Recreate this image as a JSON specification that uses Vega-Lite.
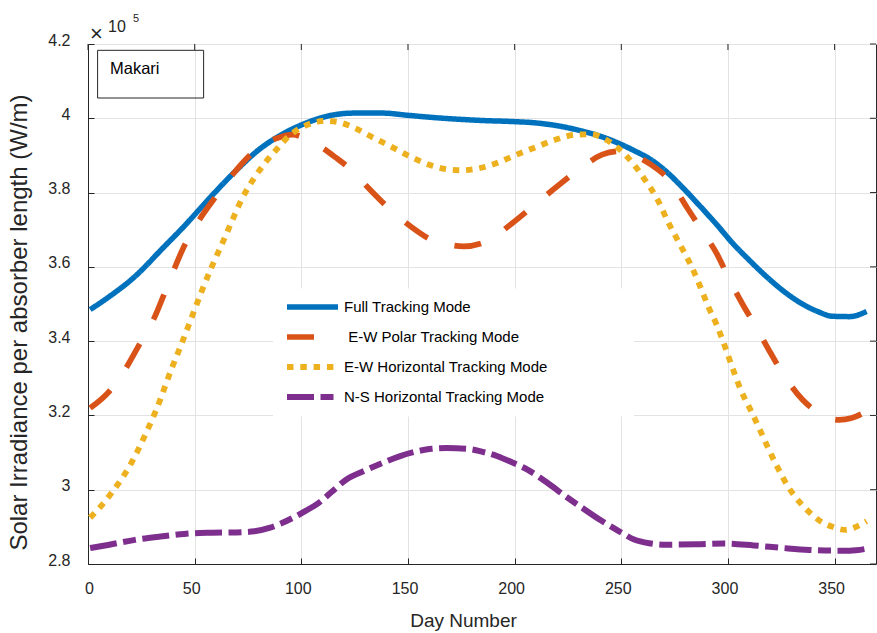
{
  "$schema": "https://vega.github.io/schema/vega-lite/v6.json",
  "width": 788,
  "height": 520,
  "autosize": {"type": "none"},
  "padding": {"left": 88, "top": 44, "right": 1, "bottom": 69},
  "background": "white",
  "config": {
    "font": "Liberation Sans",
    "view": {"stroke": "#262626", "strokeWidth": 1},
    "axis": {
      "domainColor": "#262626",
      "tickColor": "#262626",
      "labelColor": "#262626",
      "titleColor": "#262626",
      "gridColor": "#e3e3e3",
      "gridWidth": 1,
      "labelFont": "Liberation Sans",
      "titleFont": "Liberation Sans",
      "labelFontSize": 16,
      "titleFontSize": 19,
      "titleFontWeight": "normal",
      "tickSize": -6
    },
    "legend": {
      "orient": "none",
      "legendX": 185,
      "legendY": 244.5,
      "fillColor": "white",
      "padding": 11,
      "symbolType": "stroke",
      "symbolSize": 2601,
      "symbolStrokeWidth": 6,
      "labelFont": "Liberation Sans",
      "labelFontSize": 15,
      "labelColor": "#000000",
      "labelLimit": 600,
      "labelOffset": 3,
      "clipHeight": 15,
      "rowPadding": 14
    }
  },
  "datasets": {
    "ticks_x": [{"tick": 0}, {"tick": 50}, {"tick": 100}, {"tick": 150}, {"tick": 200}, {"tick": 250}, {"tick": 300}, {"tick": 350}],
    "ticks_y": [{"tick": 280000}, {"tick": 300000}, {"tick": 320000}, {"tick": 340000}, {"tick": 360000}, {"tick": 380000}, {"tick": 400000}, {"tick": 420000}],
    "irradiance": [
      {"day": 1, "irradiance": 348500, "mode": "Full Tracking Mode"},
      {"day": 10, "irradiance": 352000, "mode": "Full Tracking Mode"},
      {"day": 22, "irradiance": 357400, "mode": "Full Tracking Mode"},
      {"day": 35, "irradiance": 365000, "mode": "Full Tracking Mode"},
      {"day": 45, "irradiance": 370900, "mode": "Full Tracking Mode"},
      {"day": 57, "irradiance": 378500, "mode": "Full Tracking Mode"},
      {"day": 69, "irradiance": 385700, "mode": "Full Tracking Mode"},
      {"day": 80, "irradiance": 391500, "mode": "Full Tracking Mode"},
      {"day": 92, "irradiance": 396000, "mode": "Full Tracking Mode"},
      {"day": 100, "irradiance": 398200, "mode": "Full Tracking Mode"},
      {"day": 108, "irradiance": 399900, "mode": "Full Tracking Mode"},
      {"day": 116, "irradiance": 401000, "mode": "Full Tracking Mode"},
      {"day": 125, "irradiance": 401400, "mode": "Full Tracking Mode"},
      {"day": 138, "irradiance": 401400, "mode": "Full Tracking Mode"},
      {"day": 150, "irradiance": 400800, "mode": "Full Tracking Mode"},
      {"day": 162, "irradiance": 400200, "mode": "Full Tracking Mode"},
      {"day": 175, "irradiance": 399700, "mode": "Full Tracking Mode"},
      {"day": 185, "irradiance": 399400, "mode": "Full Tracking Mode"},
      {"day": 200, "irradiance": 399100, "mode": "Full Tracking Mode"},
      {"day": 209, "irradiance": 398800, "mode": "Full Tracking Mode"},
      {"day": 220, "irradiance": 398000, "mode": "Full Tracking Mode"},
      {"day": 232, "irradiance": 396500, "mode": "Full Tracking Mode"},
      {"day": 240, "irradiance": 395200, "mode": "Full Tracking Mode"},
      {"day": 249, "irradiance": 393200, "mode": "Full Tracking Mode"},
      {"day": 256, "irradiance": 391300, "mode": "Full Tracking Mode"},
      {"day": 264, "irradiance": 388800, "mode": "Full Tracking Mode"},
      {"day": 271, "irradiance": 385700, "mode": "Full Tracking Mode"},
      {"day": 279, "irradiance": 381200, "mode": "Full Tracking Mode"},
      {"day": 287, "irradiance": 376300, "mode": "Full Tracking Mode"},
      {"day": 295, "irradiance": 371200, "mode": "Full Tracking Mode"},
      {"day": 302, "irradiance": 366500, "mode": "Full Tracking Mode"},
      {"day": 310, "irradiance": 361800, "mode": "Full Tracking Mode"},
      {"day": 318, "irradiance": 357400, "mode": "Full Tracking Mode"},
      {"day": 326, "irradiance": 353500, "mode": "Full Tracking Mode"},
      {"day": 334, "irradiance": 350300, "mode": "Full Tracking Mode"},
      {"day": 342, "irradiance": 348000, "mode": "Full Tracking Mode"},
      {"day": 349, "irradiance": 346700, "mode": "Full Tracking Mode"},
      {"day": 357, "irradiance": 346600, "mode": "Full Tracking Mode"},
      {"day": 365, "irradiance": 348000, "mode": "Full Tracking Mode"},

      {"day": 1, "irradiance": 322000, "mode": "E-W Polar Tracking Mode"},
      {"day": 10, "irradiance": 326500, "mode": "E-W Polar Tracking Mode"},
      {"day": 17, "irradiance": 332000, "mode": "E-W Polar Tracking Mode"},
      {"day": 24, "irradiance": 339000, "mode": "E-W Polar Tracking Mode"},
      {"day": 31, "irradiance": 346200, "mode": "E-W Polar Tracking Mode"},
      {"day": 38, "irradiance": 356000, "mode": "E-W Polar Tracking Mode"},
      {"day": 45, "irradiance": 365500, "mode": "E-W Polar Tracking Mode"},
      {"day": 52, "irradiance": 372500, "mode": "E-W Polar Tracking Mode"},
      {"day": 60, "irradiance": 379000, "mode": "E-W Polar Tracking Mode"},
      {"day": 68, "irradiance": 385000, "mode": "E-W Polar Tracking Mode"},
      {"day": 77, "irradiance": 390600, "mode": "E-W Polar Tracking Mode"},
      {"day": 88, "irradiance": 394500, "mode": "E-W Polar Tracking Mode"},
      {"day": 96, "irradiance": 395600, "mode": "E-W Polar Tracking Mode"},
      {"day": 101, "irradiance": 394800, "mode": "E-W Polar Tracking Mode"},
      {"day": 110, "irradiance": 392000, "mode": "E-W Polar Tracking Mode"},
      {"day": 116, "irradiance": 389500, "mode": "E-W Polar Tracking Mode"},
      {"day": 122, "irradiance": 386800, "mode": "E-W Polar Tracking Mode"},
      {"day": 131, "irradiance": 381500, "mode": "E-W Polar Tracking Mode"},
      {"day": 141, "irradiance": 375800, "mode": "E-W Polar Tracking Mode"},
      {"day": 151, "irradiance": 371000, "mode": "E-W Polar Tracking Mode"},
      {"day": 161, "irradiance": 367300, "mode": "E-W Polar Tracking Mode"},
      {"day": 169, "irradiance": 366000, "mode": "E-W Polar Tracking Mode"},
      {"day": 176, "irradiance": 365500, "mode": "E-W Polar Tracking Mode"},
      {"day": 187, "irradiance": 366900, "mode": "E-W Polar Tracking Mode"},
      {"day": 199, "irradiance": 371800, "mode": "E-W Polar Tracking Mode"},
      {"day": 210, "irradiance": 377000, "mode": "E-W Polar Tracking Mode"},
      {"day": 220, "irradiance": 381700, "mode": "E-W Polar Tracking Mode"},
      {"day": 232, "irradiance": 387000, "mode": "E-W Polar Tracking Mode"},
      {"day": 241, "irradiance": 390200, "mode": "E-W Polar Tracking Mode"},
      {"day": 249, "irradiance": 391100, "mode": "E-W Polar Tracking Mode"},
      {"day": 256, "irradiance": 390000, "mode": "E-W Polar Tracking Mode"},
      {"day": 264, "irradiance": 387500, "mode": "E-W Polar Tracking Mode"},
      {"day": 273, "irradiance": 383000, "mode": "E-W Polar Tracking Mode"},
      {"day": 281, "irradiance": 375800, "mode": "E-W Polar Tracking Mode"},
      {"day": 287, "irradiance": 370500, "mode": "E-W Polar Tracking Mode"},
      {"day": 295, "irradiance": 363300, "mode": "E-W Polar Tracking Mode"},
      {"day": 300, "irradiance": 357400, "mode": "E-W Polar Tracking Mode"},
      {"day": 307, "irradiance": 349800, "mode": "E-W Polar Tracking Mode"},
      {"day": 313, "irradiance": 344000, "mode": "E-W Polar Tracking Mode"},
      {"day": 320, "irradiance": 336800, "mode": "E-W Polar Tracking Mode"},
      {"day": 326, "irradiance": 331000, "mode": "E-W Polar Tracking Mode"},
      {"day": 335, "irradiance": 324200, "mode": "E-W Polar Tracking Mode"},
      {"day": 344, "irradiance": 320200, "mode": "E-W Polar Tracking Mode"},
      {"day": 352, "irradiance": 318800, "mode": "E-W Polar Tracking Mode"},
      {"day": 358, "irradiance": 319300, "mode": "E-W Polar Tracking Mode"},
      {"day": 365, "irradiance": 321100, "mode": "E-W Polar Tracking Mode"},

      {"day": 1, "irradiance": 292500, "mode": "E-W Horizontal Tracking Mode"},
      {"day": 6, "irradiance": 295500, "mode": "E-W Horizontal Tracking Mode"},
      {"day": 11, "irradiance": 299100, "mode": "E-W Horizontal Tracking Mode"},
      {"day": 17, "irradiance": 304000, "mode": "E-W Horizontal Tracking Mode"},
      {"day": 22, "irradiance": 309000, "mode": "E-W Horizontal Tracking Mode"},
      {"day": 27, "irradiance": 315000, "mode": "E-W Horizontal Tracking Mode"},
      {"day": 32, "irradiance": 321500, "mode": "E-W Horizontal Tracking Mode"},
      {"day": 39, "irradiance": 332300, "mode": "E-W Horizontal Tracking Mode"},
      {"day": 44, "irradiance": 339500, "mode": "E-W Horizontal Tracking Mode"},
      {"day": 49, "irradiance": 347000, "mode": "E-W Horizontal Tracking Mode"},
      {"day": 53, "irradiance": 353000, "mode": "E-W Horizontal Tracking Mode"},
      {"day": 58, "irradiance": 360000, "mode": "E-W Horizontal Tracking Mode"},
      {"day": 63, "irradiance": 366400, "mode": "E-W Horizontal Tracking Mode"},
      {"day": 68, "irradiance": 373000, "mode": "E-W Horizontal Tracking Mode"},
      {"day": 72, "irradiance": 378100, "mode": "E-W Horizontal Tracking Mode"},
      {"day": 78, "irradiance": 384000, "mode": "E-W Horizontal Tracking Mode"},
      {"day": 83, "irradiance": 388000, "mode": "E-W Horizontal Tracking Mode"},
      {"day": 89, "irradiance": 392000, "mode": "E-W Horizontal Tracking Mode"},
      {"day": 94, "irradiance": 395100, "mode": "E-W Horizontal Tracking Mode"},
      {"day": 100, "irradiance": 397500, "mode": "E-W Horizontal Tracking Mode"},
      {"day": 105, "irradiance": 398700, "mode": "E-W Horizontal Tracking Mode"},
      {"day": 111, "irradiance": 399300, "mode": "E-W Horizontal Tracking Mode"},
      {"day": 117, "irradiance": 399000, "mode": "E-W Horizontal Tracking Mode"},
      {"day": 125, "irradiance": 397400, "mode": "E-W Horizontal Tracking Mode"},
      {"day": 133, "irradiance": 395000, "mode": "E-W Horizontal Tracking Mode"},
      {"day": 142, "irradiance": 392400, "mode": "E-W Horizontal Tracking Mode"},
      {"day": 151, "irradiance": 389700, "mode": "E-W Horizontal Tracking Mode"},
      {"day": 160, "irradiance": 387500, "mode": "E-W Horizontal Tracking Mode"},
      {"day": 168, "irradiance": 386300, "mode": "E-W Horizontal Tracking Mode"},
      {"day": 175, "irradiance": 386000, "mode": "E-W Horizontal Tracking Mode"},
      {"day": 183, "irradiance": 386500, "mode": "E-W Horizontal Tracking Mode"},
      {"day": 192, "irradiance": 388000, "mode": "E-W Horizontal Tracking Mode"},
      {"day": 200, "irradiance": 390000, "mode": "E-W Horizontal Tracking Mode"},
      {"day": 209, "irradiance": 392000, "mode": "E-W Horizontal Tracking Mode"},
      {"day": 219, "irradiance": 394200, "mode": "E-W Horizontal Tracking Mode"},
      {"day": 229, "irradiance": 395600, "mode": "E-W Horizontal Tracking Mode"},
      {"day": 236, "irradiance": 395700, "mode": "E-W Horizontal Tracking Mode"},
      {"day": 242, "irradiance": 394500, "mode": "E-W Horizontal Tracking Mode"},
      {"day": 248, "irradiance": 392200, "mode": "E-W Horizontal Tracking Mode"},
      {"day": 256, "irradiance": 387500, "mode": "E-W Horizontal Tracking Mode"},
      {"day": 261, "irradiance": 383500, "mode": "E-W Horizontal Tracking Mode"},
      {"day": 267, "irradiance": 378100, "mode": "E-W Horizontal Tracking Mode"},
      {"day": 272, "irradiance": 372000, "mode": "E-W Horizontal Tracking Mode"},
      {"day": 278, "irradiance": 365500, "mode": "E-W Horizontal Tracking Mode"},
      {"day": 283, "irradiance": 360000, "mode": "E-W Horizontal Tracking Mode"},
      {"day": 287, "irradiance": 354700, "mode": "E-W Horizontal Tracking Mode"},
      {"day": 291, "irradiance": 349000, "mode": "E-W Horizontal Tracking Mode"},
      {"day": 295, "irradiance": 344000, "mode": "E-W Horizontal Tracking Mode"},
      {"day": 298, "irradiance": 339500, "mode": "E-W Horizontal Tracking Mode"},
      {"day": 302, "irradiance": 333000, "mode": "E-W Horizontal Tracking Mode"},
      {"day": 306, "irradiance": 326900, "mode": "E-W Horizontal Tracking Mode"},
      {"day": 311, "irradiance": 321000, "mode": "E-W Horizontal Tracking Mode"},
      {"day": 315, "irradiance": 316100, "mode": "E-W Horizontal Tracking Mode"},
      {"day": 319, "irradiance": 311000, "mode": "E-W Horizontal Tracking Mode"},
      {"day": 323, "irradiance": 306300, "mode": "E-W Horizontal Tracking Mode"},
      {"day": 328, "irradiance": 301000, "mode": "E-W Horizontal Tracking Mode"},
      {"day": 334, "irradiance": 296400, "mode": "E-W Horizontal Tracking Mode"},
      {"day": 339, "irradiance": 293500, "mode": "E-W Horizontal Tracking Mode"},
      {"day": 344, "irradiance": 291300, "mode": "E-W Horizontal Tracking Mode"},
      {"day": 349, "irradiance": 290000, "mode": "E-W Horizontal Tracking Mode"},
      {"day": 355, "irradiance": 289200, "mode": "E-W Horizontal Tracking Mode"},
      {"day": 360, "irradiance": 290000, "mode": "E-W Horizontal Tracking Mode"},
      {"day": 365, "irradiance": 291500, "mode": "E-W Horizontal Tracking Mode"},

      {"day": 1, "irradiance": 284300, "mode": "N-S Horizontal Tracking Mode"},
      {"day": 10, "irradiance": 285200, "mode": "N-S Horizontal Tracking Mode"},
      {"day": 22, "irradiance": 286500, "mode": "N-S Horizontal Tracking Mode"},
      {"day": 34, "irradiance": 287400, "mode": "N-S Horizontal Tracking Mode"},
      {"day": 45, "irradiance": 288100, "mode": "N-S Horizontal Tracking Mode"},
      {"day": 57, "irradiance": 288400, "mode": "N-S Horizontal Tracking Mode"},
      {"day": 69, "irradiance": 288500, "mode": "N-S Horizontal Tracking Mode"},
      {"day": 78, "irradiance": 288800, "mode": "N-S Horizontal Tracking Mode"},
      {"day": 85, "irradiance": 289700, "mode": "N-S Horizontal Tracking Mode"},
      {"day": 90, "irradiance": 290800, "mode": "N-S Horizontal Tracking Mode"},
      {"day": 96, "irradiance": 292400, "mode": "N-S Horizontal Tracking Mode"},
      {"day": 102, "irradiance": 294300, "mode": "N-S Horizontal Tracking Mode"},
      {"day": 108, "irradiance": 296400, "mode": "N-S Horizontal Tracking Mode"},
      {"day": 114, "irradiance": 299300, "mode": "N-S Horizontal Tracking Mode"},
      {"day": 121, "irradiance": 302700, "mode": "N-S Horizontal Tracking Mode"},
      {"day": 130, "irradiance": 305200, "mode": "N-S Horizontal Tracking Mode"},
      {"day": 138, "irradiance": 307200, "mode": "N-S Horizontal Tracking Mode"},
      {"day": 146, "irradiance": 309000, "mode": "N-S Horizontal Tracking Mode"},
      {"day": 154, "irradiance": 310300, "mode": "N-S Horizontal Tracking Mode"},
      {"day": 161, "irradiance": 311000, "mode": "N-S Horizontal Tracking Mode"},
      {"day": 168, "irradiance": 311200, "mode": "N-S Horizontal Tracking Mode"},
      {"day": 178, "irradiance": 311000, "mode": "N-S Horizontal Tracking Mode"},
      {"day": 185, "irradiance": 310200, "mode": "N-S Horizontal Tracking Mode"},
      {"day": 192, "irradiance": 309000, "mode": "N-S Horizontal Tracking Mode"},
      {"day": 199, "irradiance": 307300, "mode": "N-S Horizontal Tracking Mode"},
      {"day": 206, "irradiance": 305400, "mode": "N-S Horizontal Tracking Mode"},
      {"day": 215, "irradiance": 302000, "mode": "N-S Horizontal Tracking Mode"},
      {"day": 224, "irradiance": 298200, "mode": "N-S Horizontal Tracking Mode"},
      {"day": 232, "irradiance": 295000, "mode": "N-S Horizontal Tracking Mode"},
      {"day": 240, "irradiance": 291900, "mode": "N-S Horizontal Tracking Mode"},
      {"day": 249, "irradiance": 288800, "mode": "N-S Horizontal Tracking Mode"},
      {"day": 256, "irradiance": 286600, "mode": "N-S Horizontal Tracking Mode"},
      {"day": 263, "irradiance": 285600, "mode": "N-S Horizontal Tracking Mode"},
      {"day": 271, "irradiance": 285200, "mode": "N-S Horizontal Tracking Mode"},
      {"day": 285, "irradiance": 285300, "mode": "N-S Horizontal Tracking Mode"},
      {"day": 298, "irradiance": 285500, "mode": "N-S Horizontal Tracking Mode"},
      {"day": 312, "irradiance": 285000, "mode": "N-S Horizontal Tracking Mode"},
      {"day": 326, "irradiance": 284300, "mode": "N-S Horizontal Tracking Mode"},
      {"day": 338, "irradiance": 283800, "mode": "N-S Horizontal Tracking Mode"},
      {"day": 349, "irradiance": 283600, "mode": "N-S Horizontal Tracking Mode"},
      {"day": 357, "irradiance": 283600, "mode": "N-S Horizontal Tracking Mode"},
      {"day": 365, "irradiance": 284100, "mode": "N-S Horizontal Tracking Mode"}
    ]
  },
  "layer": [
    {
      "data": {"name": "irradiance"},
      "mark": {"type": "line", "interpolate": "monotone", "clip": true},
      "encoding": {
        "x": {
          "field": "day",
          "type": "quantitative",
          "scale": {"domain": [0, 369.4], "nice": false, "zero": false},
          "axis": {
            "orient": "bottom",
            "values": [0, 50, 100, 150, 200, 250, 300, 350],
            "title": "Day Number",
            "grid": true,
            "labelPadding": 22,
            "labelOffset": -3.5,
            "titlePadding": 15,
            "titleX": 375,
            "titleAlign": "center"
          }
        },
        "y": {
          "field": "irradiance",
          "type": "quantitative",
          "scale": {"domain": [280000, 420000], "nice": false, "zero": false},
          "axis": {
            "orient": "left",
            "values": [280000, 300000, 320000, 340000, 360000, 380000, 400000, 420000],
            "labelExpr": "format(datum.value / 100000, '.2~f')",
            "title": "Solar Irradiance per absorber length (W/m)",
            "titleFontSize": 24,
            "titleLimit": 700,
            "titleY": 278,
            "titleAlign": "center",
            "grid": true,
            "labelPadding": 24,
            "labelOffset": -4,
            "titlePadding": 16
          }
        },
        "color": {
          "field": "mode",
          "type": "nominal",
          "scale": {
            "domain": ["Full Tracking Mode", "E-W Polar Tracking Mode", "E-W Horizontal Tracking Mode", "N-S Horizontal Tracking Mode"],
            "range": ["#0072BD", "#D95319", "#EDB120", "#7E2F8E"]
          },
          "legend": {
            "title": null,
            "encode": {
              "symbols": {
                "update": {
                  "strokeDash": {"scale": "strokeDash", "field": "value"},
                  "strokeWidth": {"scale": "strokeWidth", "field": "value"}
                }
              },
              "labels": {
                "update": {
                  "text": {"signal": "(datum.value == 'E-W Polar Tracking Mode' ? '\u200b\u00a0' : '') + datum.label + '\u00a0\u00a0\u00a0\u00a0\u00a0\u00a0\u00a0\u00a0\u00a0\u00a0\u00a0\u00a0\u00a0\u00a0\u00a0\u00a0\u00a0\u00a0\u200b'"}
                }
              }
            }
          }
        },
        "strokeDash": {
          "field": "mode",
          "type": "nominal",
          "scale": {
            "domain": ["Full Tracking Mode", "E-W Polar Tracking Mode", "E-W Horizontal Tracking Mode", "N-S Horizontal Tracking Mode"],
            "range": [[1, 0], [27, 28], [6.5, 6.8], [27, 6.5, 13, 6.5]]
          },
          "legend": null
        },
        "strokeWidth": {
          "field": "mode",
          "type": "nominal",
          "scale": {
            "domain": ["Full Tracking Mode", "E-W Polar Tracking Mode", "E-W Horizontal Tracking Mode", "N-S Horizontal Tracking Mode"],
            "range": [5.5, 6, 6.5, 6.5]
          },
          "legend": null
        }
      }
    },
    {
      "data": {"name": "ticks_x"},
      "mark": {"type": "rule", "color": "#262626", "strokeWidth": 1},
      "encoding": {
        "x": {"field": "tick", "type": "quantitative"},
        "y": {"datum": 420000},
        "y2": {"datum": 418380}
      }
    },
    {
      "data": {"name": "ticks_y"},
      "mark": {"type": "rule", "color": "#262626", "strokeWidth": 1},
      "encoding": {
        "y": {"field": "tick", "type": "quantitative"},
        "x": {"datum": 369.4},
        "x2": {"datum": 366.6}
      }
    },
    {
      "data": {"values": [{"label": "Makari"}]},
      "mark": {"type": "rect", "fillOpacity": 0, "stroke": "#262626", "strokeWidth": 1},
      "encoding": {
        "x": {"datum": 4.5},
        "x2": {"datum": 54.2},
        "y": {"datum": 418300},
        "y2": {"datum": 405460}
      }
    },
    {
      "data": {"values": [{"label": "Makari"}]},
      "mark": {"type": "text", "align": "left", "baseline": "alphabetic", "fontSize": 16.5, "color": "#000000", "font": "Liberation Sans"},
      "encoding": {
        "x": {"datum": 10.3},
        "y": {"datum": 412000},
        "text": {"field": "label"}
      }
    },
    {
      "data": {"values": [{"sign": "×", "base": "10", "exponent": "5"}]},
      "mark": {"type": "text", "align": "center", "baseline": "middle", "fontSize": 22, "color": "#262626", "font": "Liberation Sans"},
      "encoding": {
        "x": {"datum": 3.9},
        "y": {"datum": 422770},
        "text": {"field": "sign"}
      }
    },
    {
      "data": {"values": [{"sign": "×", "base": "10", "exponent": "5"}]},
      "mark": {"type": "text", "align": "left", "baseline": "alphabetic", "fontSize": 16, "color": "#262626", "font": "Liberation Sans"},
      "encoding": {
        "x": {"datum": 9.4},
        "y": {"datum": 423310},
        "text": {"field": "base"}
      }
    },
    {
      "data": {"values": [{"sign": "×", "base": "10", "exponent": "5"}]},
      "mark": {"type": "text", "align": "left", "baseline": "alphabetic", "fontSize": 11, "color": "#262626", "font": "Liberation Sans"},
      "encoding": {
        "x": {"datum": 21.1},
        "y": {"datum": 426000},
        "text": {"field": "exponent"}
      }
    }
  ]
}
